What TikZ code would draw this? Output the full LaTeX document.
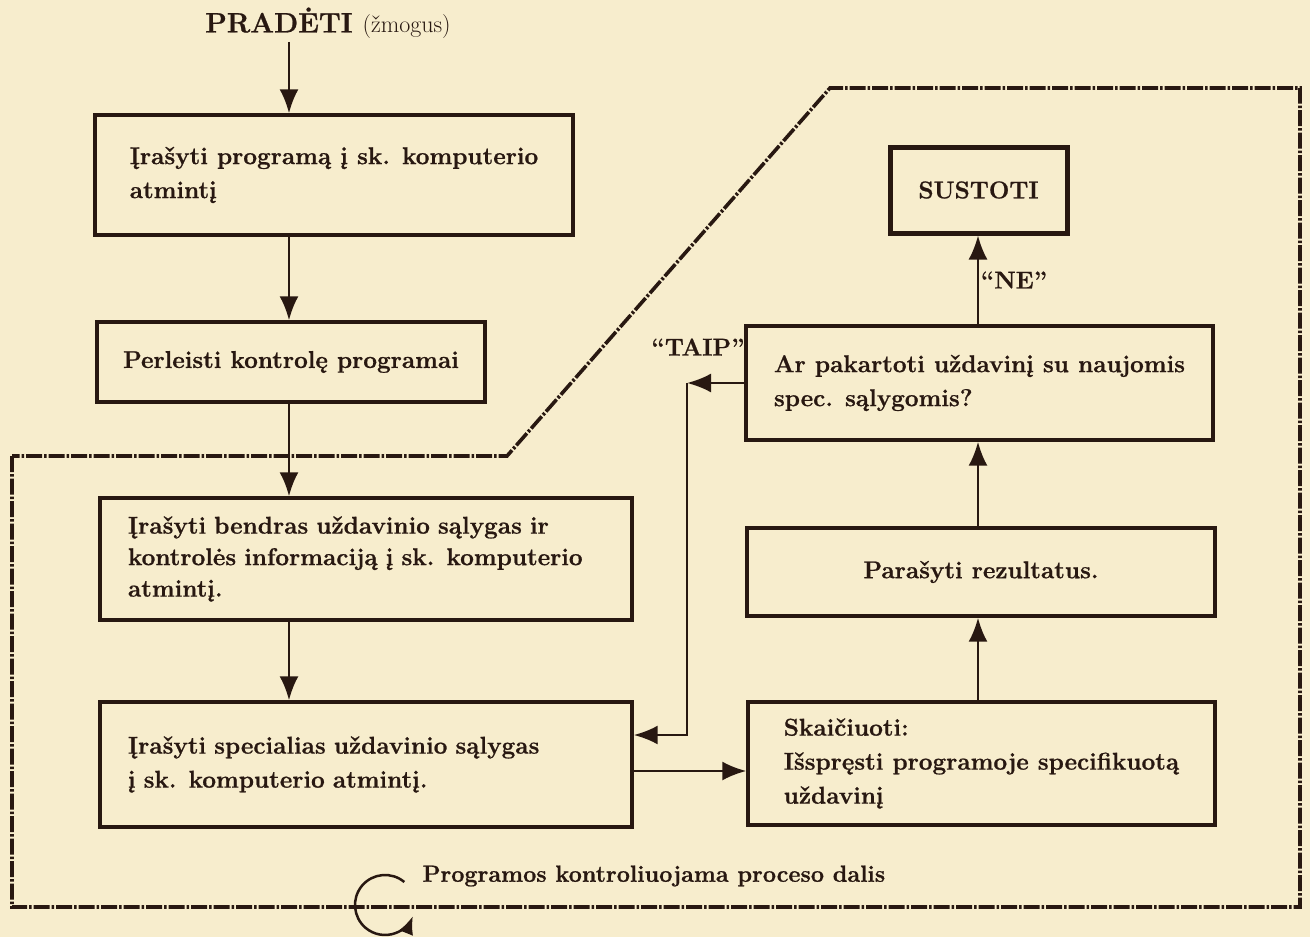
\documentclass[tikz,border=0pt]{standalone}
\usepackage{fontspec}
\setmainfont{Latin Modern Roman}[BoldFeatures={FakeBold=0.8}]
\usetikzlibrary{arrows.meta}
\definecolor{paper}{RGB}{247,237,205}
\definecolor{ink}{RGB}{40,24,17}
\begin{document}
\begin{tikzpicture}[x=1pt,y=-1pt,
  txt/.style={text=ink, font=\fontsize{24.3}{34}\selectfont\bfseries},
  box/.style={txt, draw=ink, line width=3.4pt, align=left, inner sep=0pt},
  arr/.style={draw=ink, line width=2.5pt, -{Latex[length=24pt,width=19pt]}},
  bnd/.style={draw=ink, line width=3.6pt, dash pattern=on 16pt off 2pt on 2.5pt off 2pt}]
\useasboundingbox (0,0) rectangle (1310,937);
\fill[paper] (0,0) rectangle (1310,937);
% column coordinates
\coordinate (colx) at (289,0);
\coordinate (rcol) at (978,0);
\coordinate (fwd) at (0,771);
\coordinate (ret) at (0,735);
\coordinate (tc) at (687,383);
% boundary of program-controlled part
\draw[bnd] (12,456) -- (12,907) -- (1300,907) -- (1300,88) -- (830,88) -- (507,456) -- cycle;
% nodes
\node[txt, font=\fontsize{28}{30}\selectfont\bfseries] (title) at (328,23) {PRADĖTI\hspace{10pt}{\fontsize{24}{30}\selectfont\mdseries(žmogus)}};
\node[box, minimum width=478pt, minimum height=120pt] (b1) at (334,175)
  {Įrašyti programą į sk. komputerio\\atmintį};
\node[box, minimum width=388pt, minimum height=80pt] (b2) at (291,362)
  {Perleisti kontrolę programai};
\node[box, font=\fontsize{24.3}{31.5}\selectfont\bfseries, inner xsep=28pt, text width=476pt, minimum height=122pt] (b3) at (366,559)
  {Įrašyti bendras uždavinio sąlygas ir\\kontrolės informaciją į sk. komputerio\\atmintį.};
\node[box, inner xsep=28pt, text width=476pt, minimum height=125pt] (b4) at (366,764.5)
  {Įrašyti specialias uždavinio sąlygas\\į sk. komputerio atmintį.};
\node[box, minimum width=467pt, minimum height=123pt] (calc) at (981.5,763.5)
  {Skaičiuoti:\\Išspręsti programoje specifikuotą\\uždavinį};
\node[box, align=center, minimum width=468pt, minimum height=88pt] (res) at (981,572)
  {Parašyti rezultatus.};
\node[box, minimum width=467pt, minimum height=114pt] (ask) at (979.5,383)
  {Ar pakartoti uždavinį su naujomis\\spec. sąlygomis?};
\node[box, align=center, line width=5pt, minimum width=177pt, minimum height=86pt] (stop) at (978.5,190)
  {SUSTOTI};
\node[txt] (ne) at (1014,280) {“NE”};
\node[txt] (taip) at (698,347) {“TAIP”};
\node[txt, font=\fontsize{23.4}{30}\selectfont\bfseries, anchor=west] (ctl) at (419,876) {Programos kontroliuojama proceso dalis};
% connectors
\draw[arr] (title.south -| colx) -- (b1.north -| colx);
\draw[arr] (b1.south -| colx) -- (b2.north -| colx);
\draw[arr] (b2.south -| colx) -- (b3.north -| colx);
\draw[arr] (b3.south -| colx) -- (b4.north -| colx);
\draw[arr] (b4.east |- fwd) -- (calc.west |- fwd);
\draw[arr] (calc.north -| rcol) -- (res.south -| rcol);
\draw[arr] (res.north -| rcol) -- (ask.south -| rcol);
\draw[arr] (ask.north -| rcol) -- (stop.south -| rcol);
\draw[arr] (ask.west |- tc) -- (tc);
\draw[arr] (tc) -- (tc |- ret) -- (b4.east |- ret);
% curl symbol
\draw[draw=ink, line width=2.5pt, -{Latex[length=18pt,width=15pt]}] (404.3,882) arc[start angle=-50, end angle=-338, radius=30];
\end{tikzpicture}
\end{document}
